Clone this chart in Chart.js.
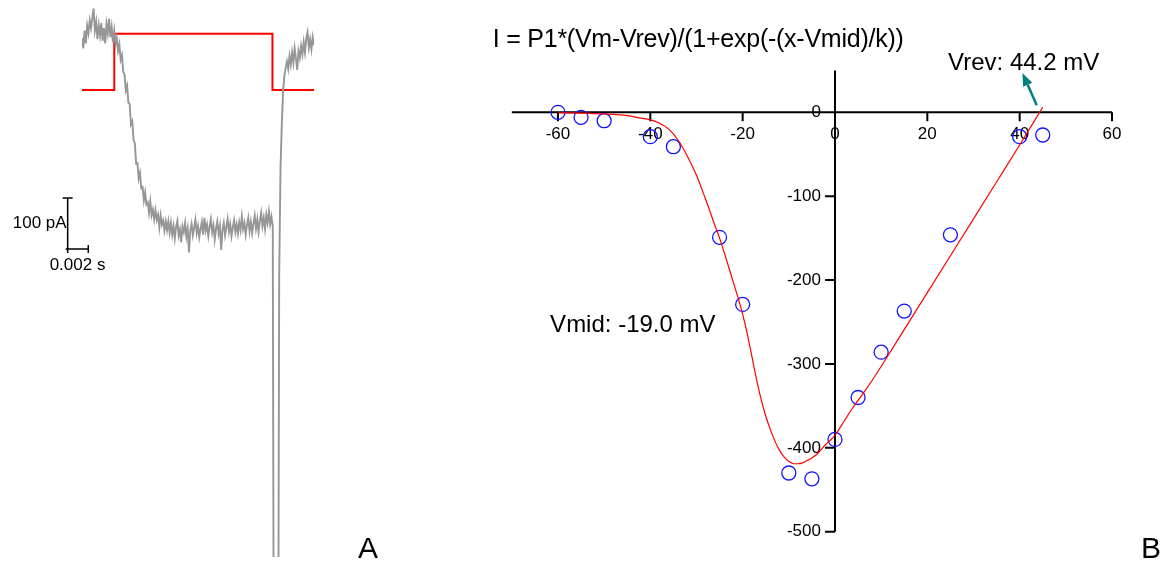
<!DOCTYPE html>
<html>
<head>
<meta charset="utf-8">
<title>Current trace and I-V relation</title>
<script src="https://cdn.jsdelivr.net/npm/chart.js@4.4.1/dist/chart.umd.min.js"></script>
<style>
  html, body { margin: 0; padding: 0; background: #fff; }
  body { width: 1165px; height: 562px; position: relative; overflow: hidden; }
  canvas { position: absolute; top: 0; }
  #traceChart { left: 0; }
  #ivChart { left: 390px; }
</style>
</head>
<body>
<canvas id="traceChart" width="390" height="562"></canvas>
<canvas id="ivChart" width="775" height="562"></canvas>
<script>
// ---- panel A: current trace (pA), sampled every 0.125 ms, and the voltage step (mV)
const sampleMs = 0.125;
const traceCurrent = [
  -10, -30, 5, -20, 15, 0, 25, 10, 30, 48, 5, 22, -12, 15, -5, 20, -15, 10, -20, 18,
  0, 28, -8, 12, -18, 5, -22, -10, -35,
  -22, -52, -43, -76, -81, -112, -103, -136, -139, -179, -173, -209, -216, -256, -255,
  -285, -274, -304, -302, -328, -312, -336, -332, -352, -330, -357, -346, -365, -347,
  -366, -356, -381, -357, -375, -367, -387, -369, -386, -369, -391,
  -372, -395, -378, -402, -380, -368, -397, -385, -410, -379, -390, -372, -399, -383,
  -430, -388, -374, -396, -381, -366, -392, -378, -400, -384, -370, -395, -362, -387,
  -375, -398, -380, -365, -391, -377, -404, -383, -369, -393, -378, -425, -386, -372,
  -396, -380, -364, -389, -374, -398, -381, -367, -390, -375, -393, -371, -386, -360,
  -384, -372, -395, -376, -362, -388, -370, -392, -374, -358, -383, -365, -389, -368,
  -352, -378, -362, -384, -356, -372, -350, -375, -360,
  -378, -1500, -1500, -1500, -1500, -474, -268, -180, -115, -84, -68,
  -55, -70, -45, -62, -38, -58, -30, -50, -72, -35, -48, -25, -42, -18, -38, -10, 2,
  -28, -12, -32, -8, -24
];
const stepTime = [0, 3.13, 3.13, 18.47, 18.47, 22.5];
const stepVoltage = [-100, -100, 0, 0, -100, -100];
const scaleBarCurrent = 100; // pA
const scaleBarTime = 2;      // ms

// ---- panel B: peak current vs test potential, with the fitted curve
const testVm = [-60, -55, -50, -40, -35, -25, -20, -10, -5, 0, 5, 10, 15, 25, 40, 45];
const peakCurrent = [0, -6, -10, -29, -41, -149, -229, -430, -437, -390, -340, -286, -237, -146, -29, -27];
const fitVm = [-60, -55, -50, -45, -42, -40, -38, -36, -34, -32, -30, -28, -26, -25, -24, -23, -22,
  -21, -20, -19, -18, -17, -16, -15, -14, -13, -12, -11, -10, -9, -8, -7, -6, -5, -4, -3, -2, -1,
  0, 2, 4, 6, 8, 10, 15, 20, 25, 30, 35, 40, 45];
const fitCurrent = [-0.5, -1, -2, -4, -7, -9, -13, -20, -33, -52, -75, -104, -135, -150, -167, -185, -203,
  -221, -241, -264, -291, -318, -342, -362, -378, -392, -403, -411, -416, -419, -419, -418, -415, -412, -408, -402, -396, -391,
  -385, -368, -351, -336, -320, -303, -259, -215, -171, -127, -83, -39, 6];
const xTicks = [-60, -40, -20, 0, 20, 40, 60];
const yTicks = [0, -100, -200, -300, -400, -500];
const vrev = 44.2;
const vmid = -19.0;

const tickFont = '17px "Liberation Sans", Arial, sans-serif';
const noteFont = '24px "Liberation Sans", Arial, sans-serif';
const panelFont = '30px "Liberation Sans", Arial, sans-serif';

// scale bar and panel letter for A
const traceDecor = {
  id: 'traceDecor',
  afterDraw(chart) {
    const { ctx, scales: { x, y } } = chart;
    const barT = -1.39, barI = -423;
    const bx = x.getPixelForValue(barT);
    const bx2 = x.getPixelForValue(barT + scaleBarTime);
    const by = y.getPixelForValue(barI);
    const byTop = y.getPixelForValue(barI + scaleBarCurrent);
    ctx.save();
    ctx.strokeStyle = '#000';
    ctx.lineWidth = 1.5;
    ctx.beginPath();
    ctx.moveTo(bx, byTop); ctx.lineTo(bx, by);
    ctx.moveTo(bx - 5, byTop); ctx.lineTo(bx + 5, byTop);
    ctx.moveTo(bx - 2, by); ctx.lineTo(bx2, by);
    ctx.moveTo(bx, by - 4); ctx.lineTo(bx, by + 4);
    ctx.moveTo(bx2, by - 4); ctx.lineTo(bx2, by + 4);
    ctx.stroke();
    ctx.fillStyle = '#000';
    ctx.font = tickFont;
    ctx.textBaseline = 'middle';
    ctx.textAlign = 'right';
    ctx.fillText(scaleBarCurrent + ' pA', bx - 1, (by + byTop) / 2);
    ctx.textAlign = 'left';
    ctx.fillText((scaleBarTime / 1000) + ' s', bx - 18, by + 16);
    ctx.font = panelFont;
    ctx.textBaseline = 'alphabetic';
    ctx.fillText('A', 358, 558);
    ctx.restore();
  }
};

new Chart(document.getElementById('traceChart'), {
  type: 'line',
  data: {
    datasets: [
      {
        data: traceCurrent.map((v, i) => ({ x: i * sampleMs, y: v })),
        borderColor: 'rgb(150,150,150)',
        borderWidth: 1.9,
        pointRadius: 0,
        yAxisID: 'y'
      },
      {
        data: stepTime.map((t, i) => ({ x: t, y: stepVoltage[i] })),
        borderColor: 'rgb(255,0,0)',
        borderWidth: 2,
        pointRadius: 0,
        yAxisID: 'y2'
      }
    ]
  },
  options: {
    responsive: false,
    animation: false,
    layout: { padding: { left: 82, right: 76, top: 0, bottom: 5 } },
    plugins: { legend: { display: false }, tooltip: { enabled: false } },
    scales: {
      x: { type: 'linear', min: 0, max: 22.5, display: false },
      y: { min: -1027, max: 65, display: false },
      y2: { min: -929, max: 60, display: false }
    }
  },
  plugins: [traceDecor]
});

// crossing axes, labels and the arrow for B
const ivDecor = {
  id: 'ivDecor',
  beforeDatasetsDraw(chart) {
    const { ctx, scales: { x, y } } = chart;
    const x0 = x.getPixelForValue(0);
    const y0 = y.getPixelForValue(0);
    ctx.save();
    ctx.strokeStyle = '#000';
    ctx.lineWidth = 2;
    ctx.beginPath();
    ctx.moveTo(x.getPixelForValue(x.min), y0);
    ctx.lineTo(x.getPixelForValue(x.max), y0);
    ctx.moveTo(x0, y.getPixelForValue(y.max));
    ctx.lineTo(x0, y.getPixelForValue(y.min));
    xTicks.forEach(v => {
      const px = x.getPixelForValue(v);
      ctx.moveTo(px, y0); ctx.lineTo(px, y0 + 9);
    });
    yTicks.forEach(v => {
      const py = y.getPixelForValue(v);
      ctx.moveTo(x0 - 10, py); ctx.lineTo(x0, py);
    });
    ctx.stroke();
    ctx.fillStyle = '#000';
    ctx.font = tickFont;
    ctx.textBaseline = 'middle';
    ctx.textAlign = 'center';
    xTicks.forEach(v => ctx.fillText(String(v), x.getPixelForValue(v), y0 + 22));
    ctx.textAlign = 'right';
    yTicks.forEach(v => ctx.fillText(String(v), x0 - 14, y.getPixelForValue(v)));
    ctx.restore();
  },
  afterDatasetsDraw(chart) {
    const { ctx, scales: { x, y } } = chart;
    ctx.save();
    ctx.fillStyle = '#000';
    ctx.textBaseline = 'alphabetic';
    ctx.textAlign = 'left';
    ctx.font = '25px "Liberation Sans", Arial, sans-serif';
    ctx.letterSpacing = '-0.25px';
    ctx.fillText('I = P1*(Vm-Vrev)/(1+exp(-(x-Vmid)/k))', x.getPixelForValue(-74.1), y.getPixelForValue(77.8));
    ctx.letterSpacing = '0px';
    ctx.font = noteFont;
    ctx.fillText('Vrev: ' + vrev.toFixed(1) + ' mV', x.getPixelForValue(24.5), y.getPixelForValue(50.4));
    ctx.fillText('Vmid: ' + vmid.toFixed(1) + ' mV', x.getPixelForValue(-61.7), y.getPixelForValue(-261.9));

    // arrow pointing at the reversal label
    const tx = x.getPixelForValue(43.7), ty = y.getPixelForValue(8.5);
    const hx = x.getPixelForValue(40.6), hy = y.getPixelForValue(47);
    const ang = Math.atan2(hy - ty, hx - tx);
    const len = 13, half = 5;
    const bxp = hx - len * Math.cos(ang), byp = hy - len * Math.sin(ang);
    ctx.strokeStyle = 'rgb(0,128,128)';
    ctx.fillStyle = 'rgb(0,128,128)';
    ctx.lineWidth = 2.5;
    ctx.beginPath();
    ctx.moveTo(tx, ty); ctx.lineTo(bxp, byp);
    ctx.stroke();
    ctx.beginPath();
    ctx.moveTo(hx, hy);
    ctx.lineTo(bxp + half * Math.sin(ang), byp - half * Math.cos(ang));
    ctx.lineTo(bxp - half * Math.sin(ang), byp + half * Math.cos(ang));
    ctx.closePath();
    ctx.fill();

    ctx.fillStyle = '#000';
    ctx.font = panelFont;
    ctx.fillText('B', 751, 558);
    ctx.restore();
  }
};

new Chart(document.getElementById('ivChart'), {
  type: 'scatter',
  data: {
    datasets: [
      {
        data: fitVm.map((v, i) => ({ x: v, y: fitCurrent[i] })),
        showLine: true,
        borderColor: 'rgb(255,0,0)',
        borderWidth: 1.2,
        pointRadius: 0,
        cubicInterpolationMode: 'monotone',
        clip: false
      },
      {
        data: testVm.map((v, i) => ({ x: v, y: peakCurrent[i] })),
        borderColor: 'rgb(20,20,255)',
        backgroundColor: 'rgba(0,0,0,0)',
        borderWidth: 1.3,
        pointRadius: 7,
        pointHoverRadius: 7,
        clip: false
      }
    ]
  },
  options: {
    responsive: false,
    animation: false,
    layout: { padding: { left: 121.8, right: 53, top: 70.4, bottom: 30.3 } },
    plugins: { legend: { display: false }, tooltip: { enabled: false } },
    scales: {
      x: { type: 'linear', min: -70, max: 60, display: false },
      y: { type: 'linear', min: -500, max: 50, display: false }
    }
  },
  plugins: [ivDecor]
});
</script>
</body>
</html>
